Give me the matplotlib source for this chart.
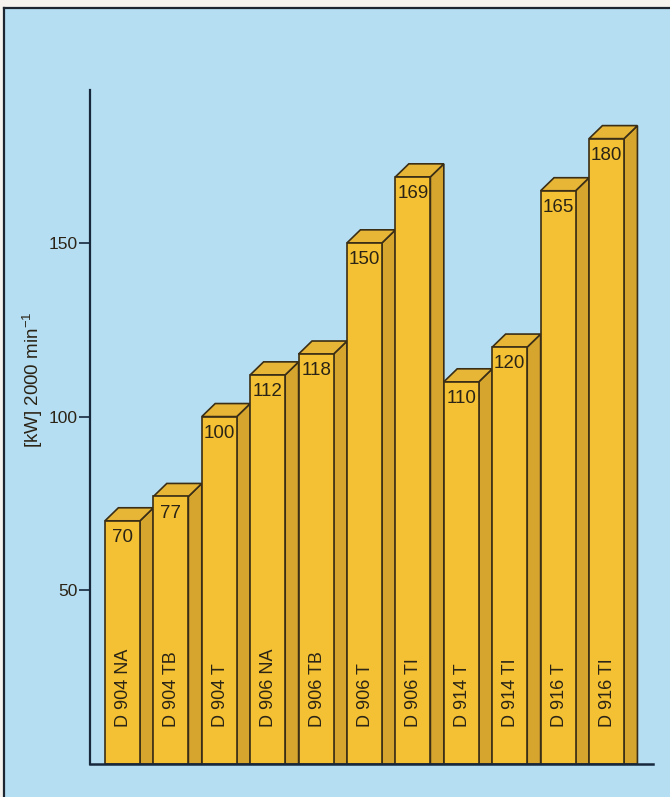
import matplotlib
matplotlib.use('Agg')
import matplotlib.pyplot as plt
from matplotlib.patches import Rectangle, Polygon
from matplotlib.lines import Line2D

# engine types and rated power at 2000 1/min
models = ['D 904 NA', 'D 904 TB', 'D 904 T', 'D 906 NA', 'D 906 TB', 'D 906 T',
          'D 906 TI', 'D 914 T', 'D 914 TI', 'D 916 T', 'D 916 TI']
power_kw = [70, 77, 100, 112, 118, 150, 169, 110, 120, 165, 180]
y_ticks = [50, 100, 150]
y_label = '[kW] 2000 min$^{-1}$'

BG = '#B6DEF3'
FRONT = '#F3C133'
SIDE = '#D6A52E'
TOP = '#E8B637'
EDGE = '#3a2e16'
AXIS = '#17283c'
TXT = '#2b2416'

plt.rcParams['font.family'] = ['Liberation Sans', 'DejaVu Sans']
plt.rcParams['mathtext.fontset'] = 'custom'
plt.rcParams['mathtext.rm'] = 'Liberation Sans'
plt.rcParams['mathtext.it'] = 'Liberation Sans:italic'

W, H = 670, 797
fig = plt.figure(figsize=(W / 100, H / 100), dpi=100)
fig.patch.set_facecolor('#f6f3ee')

# light blue card with dark border on left and top
fig.add_artist(Rectangle((4 / W, 0), 1, (H - 8) / H, transform=fig.transFigure,
                         facecolor=BG, edgecolor='none', zorder=0))
fig.add_artist(Line2D([4 / W, 4 / W], [0, (H - 8) / H], transform=fig.transFigure,
                      color='#1d2530', lw=1.6))
fig.add_artist(Line2D([4 / W, 1], [(H - 8) / H, (H - 8) / H], transform=fig.transFigure,
                      color='#1d2530', lw=1.6))

ax = fig.add_axes([90 / W, 33 / H, 563 / W, 674 / H])
ax.patch.set_visible(False)
ax.set_xlim(-0.671, 10.96)
ax.set_ylim(0, 194)

w = 0.723      # front face width
dx = 0.277     # depth, horizontal
dy = 3.75      # depth, vertical (kW units)

for i, (name, v) in enumerate(zip(models, power_kw)):
    l, r = i - w / 2, i + w / 2
    side = Polygon([(r, 0), (r + dx, 0), (r + dx, v + dy), (r, v)], closed=True,
                   facecolor=SIDE, edgecolor=EDGE, lw=1.2, zorder=2)
    top = Polygon([(l, v), (l + dx, v + dy), (r + dx, v + dy), (r, v)], closed=True,
                  facecolor=TOP, edgecolor=EDGE, lw=1.2, zorder=2)
    front = Rectangle((l, 0), w, v, facecolor=FRONT, edgecolor=EDGE, lw=1.2, zorder=3)
    ax.add_patch(side)
    ax.add_patch(top)
    ax.add_patch(front)
    ax.text(i, v - 2.4, str(v), ha='center', va='top', fontsize=13.5, color=TXT, zorder=4)
    ax.text(i + 0.02, 10.7, name, rotation=90, ha='center', va='bottom',
            fontsize=13, color=TXT, zorder=4)

for s in ['top', 'right']:
    ax.spines[s].set_visible(False)
ax.spines['left'].set_color(AXIS)
ax.spines['bottom'].set_color(AXIS)
ax.spines['left'].set_linewidth(1.6)
ax.spines['bottom'].set_linewidth(1.8)
ax.spines['left'].set_zorder(5)
ax.spines['bottom'].set_zorder(5)

ax.set_xticks([])
ax.set_yticks(y_ticks)
ax.tick_params(axis='y', direction='out', length=8, width=1.2, pad=1,
               labelsize=12.5, colors=AXIS, labelcolor=TXT)

ax.set_ylabel(y_label, fontsize=13.5, color=TXT)
ax.yaxis.set_label_coords(-0.08, 0.57)

fig.savefig('out.png', dpi=100, facecolor=fig.get_facecolor())
